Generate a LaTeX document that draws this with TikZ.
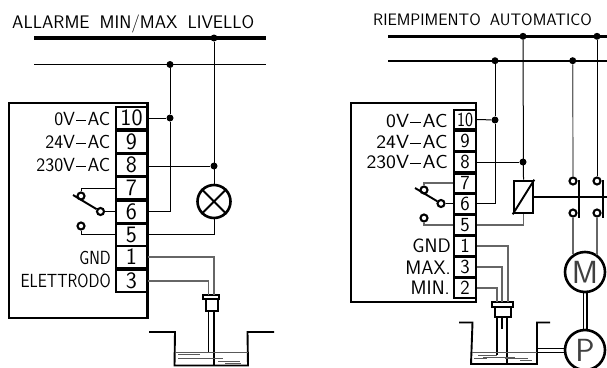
\documentclass[tikz,border=0pt]{standalone}
\usetikzlibrary{calc}
\renewcommand{\familydefault}{\sfdefault}
\newcommand{\DS}{\hspace{1.2pt}\rule[0.26em]{10pt}{0.8pt}\hspace{1.2pt}}
\newcommand{\NS}[2]{\scalebox{#1}[1]{#2}}
\tikzset{
 x=1pt,y=-1pt,
 bus/.style={line width=3.2pt},
 bus2/.style={line width=1.9pt},
 bus3/.style={line width=2.5pt},
 wire/.style={line width=1pt},
 gwire/.style={line width=1.2pt,draw=black!60},
 heavy/.style={line width=2.4pt},
 dotn/.style={circle,fill=black,inner sep=0pt,minimum size=7pt},
 ring/.style={circle,draw=black,line width=2.1pt,fill=white,inner sep=0pt,minimum size=7pt},
 lab/.style={anchor=east,inner sep=0pt,font=\fontsize{19}{19}\selectfont},
 labb/.style={anchor=east,inner sep=0pt,font=\fontsize{19.5}{19.5}\selectfont},
 title/.style={anchor=west,inner sep=0pt,font=\fontsize{18.2}{18.2}\selectfont},
 term/.style={draw=black,line width=2.5pt,inner sep=0pt,minimum width=31pt,minimum height=22.5pt,font=\fontsize{23.5}{23.5}\selectfont},
 termb/.style={draw=black,line width=2.3pt,inner sep=0pt,minimum width=22pt,minimum height=19.5pt,font=\fontsize{20}{20}\selectfont},
 mach/.style={circle,draw=black,line width=2.6pt,fill=white,inner sep=0pt,minimum size=40pt,font=\fontsize{32}{32}\selectfont\color{black!75}},
 box/.style={line width=2.5pt},
 thk/.style={line width=1.9pt},
 sens/.style={draw,line width=2pt,inner sep=0pt},
 liq/.style={line width=0.7pt,black!65},
}
\begin{document}
\begin{tikzpicture}
\useasboundingbox (0,0) rectangle (607,367);
\clip (0,0) rectangle (607,367);
% ---------- LEFT ----------
\node[title] (tL) at (12,24) {ALLARME\hspace{0.55em}MIN/MAX\hspace{0.55em}LIVELLO};
\coordinate (a1) at (34,38); \coordinate (a2) at (266,38);
\coordinate (b1) at (34,64.5); \coordinate (b2) at (266,64.5);
\draw[bus] (a1)--(a2);
\draw[bus2] (b1)--(b2);
\draw[box] (9,103) rectangle (147.5,318);
\node[term] (L10) at (131.5,118) {10};
\node[term] (L9) at (131.5,141.5) {9};
\node[term] (L8) at (131.5,165) {8};
\node[term] (L7) at (131.5,188) {7};
\node[term] (L6) at (131.5,211.5) {6};
\node[term] (L5) at (131.5,234.5) {5};
\node[term] (L1) at (131.5,257) {1};
\node[term] (L3) at (131.5,280.5) {3};
\node[lab] (l10) at (110.5,119) {0V\DS AC};
\node[lab] (l9) at (110.5,142) {24V\DS AC};
\node[lab] (l8) at (110.5,165) {230V\DS AC};
\node[lab] (l1) at (111,258) {\NS{0.84}{GND}};
\node[lab] (l3) at (111,281) {\NS{0.85}{ELETTRODO}};
% dots
\node[dotn] (dA) at (214,38) {};
\node[dotn] (dB) at (170,64.5) {};
\node[dotn] (d10) at (170,118) {};
\node[dotn] (d8) at (214,166) {};
\node[circle,draw,line width=2.6pt,fill=white,inner sep=0pt,minimum size=33pt] (lamp) at (214,201.5) {};
\draw[line width=2.1pt] (lamp.45)--(lamp.225) (lamp.135)--(lamp.315);
\draw[wire] (dA)--(lamp.north);
\draw[wire] (dB)--(d10);
\draw[wire] (L10.east)--(d10);
\draw[wire] (L8.east |- d8)--(d8);
\draw[wire] (d10)--(170,211.7)--(L6.east |- 0,211.7);
\draw[wire] (L5.east)--(lamp.south |- L5.east)--(lamp.south);
% switch
\node[ring] (s7) at (81,196) {};
\node[ring] (s6) at (100.5,211.5) {};
\node[ring] (s5) at (81,226) {};
\draw[wire] (L7.west)--(81,188)--(s7);
\draw[wire] (s6)--(L6.west |- s6);
\draw[wire] (s5)--(81,234)--(L5.west |- 0,234);
\draw[thk] (73,195)--(s6);
% sensor
\node[sens,minimum width=16pt,minimum height=4pt] (capL) at (211,297) {};
\node[sens,minimum width=12pt,minimum height=12pt] (bodyL) at (211.5,305) {};
\draw[gwire] (L1.east)--(214,257)--(214,295);
\draw[gwire] (L3.east |- 0,281)--(208.5,281)--(208.5,295);
\draw[thk] (208.5,311)--(208.5,352);
\draw[thk] (214,311)--(214,366);
% tank
\draw[thk] (149,332)--(175,332)--(174.5,365.5)--(248,365.5)--(247.5,332)--(274,332);
\draw[liq] (175,352.5)--(248,352.5);
\draw[liq] (178,354.5)--(200,354.5) (188,358)--(223,358) (178,358)--(192,358) (218,361)--(240,361) (225,363)--(241,363);
% ---------- RIGHT ----------
\node[title,font=\fontsize{16.6}{16.6}\selectfont] (tR) at (373,20) {RIEMPIMENTO\hspace{0.55em}AUTOMATICO};
\coordinate (c1) at (388,36.3); \coordinate (c2) at (607,36.3);
\coordinate (e1) at (388,60.7); \coordinate (e2) at (607,60.7);
\draw[bus3] (c1)--(c2);
\draw[bus2] (e1)--(e2);
\draw[box] (351,103) rectangle (476,302);
\node[termb] (R10) at (465,119.5) {\NS{0.85}{10}};
\node[termb] (R9) at (465,141) {9};
\node[termb] (R8) at (465,162) {8};
\node[termb] (R7) at (465,183.5) {7};
\node[termb] (R6) at (465,204) {6};
\node[termb] (R5) at (465,225) {5};
\node[termb] (R1) at (465,246) {1};
\node[termb] (R3) at (465,267) {3};
\node[termb] (R2) at (465,288) {2};
\node[lab] (r10) at (448,121) {\NS{1.1}{0V\DS AC}};
\node[lab] (r9) at (448,142) {\NS{1.1}{24V\DS AC}};
\node[lab] (r8) at (448,162) {\NS{1.1}{230V\DS AC}};
\node[labb] (r1) at (451,246) {GND};
\node[labb] (r3) at (451,268) {MAX.};
\node[labb] (r2) at (450,288) {MIN.};
\node[dotn] (dC) at (523,36.3) {};
\node[dotn] (dE) at (495,60.7) {};
\node[dotn] (dF) at (572.7,60.7) {};
\node[dotn] (dG) at (597,36.3) {};
\node[dotn] (dR10) at (495,120) {};
\node[dotn] (dR8) at (523,162) {};
% coil
\node[draw,line width=2.6pt,minimum width=19pt,minimum height=32pt,inner sep=0pt] (coil) at (523.5,197) {};
\draw[thk] (coil.south west)--(coil.north east);
\draw[wire] (dC)--(coil.north);
\draw[wire] (dE)--(dR10);
\draw[wire] (R10.east)--(dR10);
\draw[wire] (R8.east)--(dR8);
\draw[wire] (dR10)--(495,203)--(R6.east |- 0,203);
\draw[gwire] (R5.east)--(coil.south |- R5.east)--(coil.south);
% right switch
\node[ring] (t7) at (424,190) {};
\node[ring] (t6) at (441,203.5) {};
\node[ring] (t5) at (424,218) {};
\draw[gwire] (R7.west |- 0,183)--(424,183)--(t7);
\draw[wire] (t6)--(R6.west |- t6);
\draw[gwire] (t5)--(424,225)--(R5.west);
\draw[thk] (415,188)--(t6);
% contactor
\draw[heavy] (coil.east)--(607,197);
\draw[line width=2.6pt] (579,180)--(579,218) (603,180)--(603,218);
\node[ring] (k1) at (573,181) {};
\node[ring] (k2) at (597,181) {};
\node[ring] (k3) at (573,213) {};
\node[ring] (k4) at (597,213) {};
% machines
\node[mach] (M) at (585,272) {M};
\node[mach] (P) at (585,350) {P};
\draw[gwire] (dF)--(k1);
\draw[wire] (dG)--(k2);
\draw[gwire] (k3)--(573,254);
\draw[gwire] (k4)--(597,255);
\draw[line width=1.9pt] (583.5,292)--(583.5,330) (587,292)--(587,330);
% sensor
\node[sens,minimum width=21pt,minimum height=5pt] (capR) at (502.5,304.5) {};
\node[sens,minimum width=16pt,minimum height=10pt] (bodyR) at (502.5,312) {};
\draw[gwire] (R1.east)--(508,246)--(508,302);
\draw[gwire] (R3.east)--(502,267)--(502,302);
\draw[gwire] (R2.east)--(497,288)--(497,302);
\draw[thk] (497,317)--(497,355);
\draw[thk] (502,317)--(502,329);
\draw[thk] (507,317)--(507,364);
% tank
\draw[thk] (459,322.5)--(472.5,322.5)--(471,364)--(537,364)--(537,322.5)--(550,322.5);
\draw[liq] (472,352.5)--(537,352.5);
\draw[liq] (478,355)--(497,355) (483,357)--(515,357) (474,358)--(487,358) (505,358)--(528,358) (520,360)--(532,360);
\draw[thk] (537,348.5)--(P.west |- 0,348.5) (537,352.5)--(P.west |- 0,352.5);
\end{tikzpicture}
\end{document}
